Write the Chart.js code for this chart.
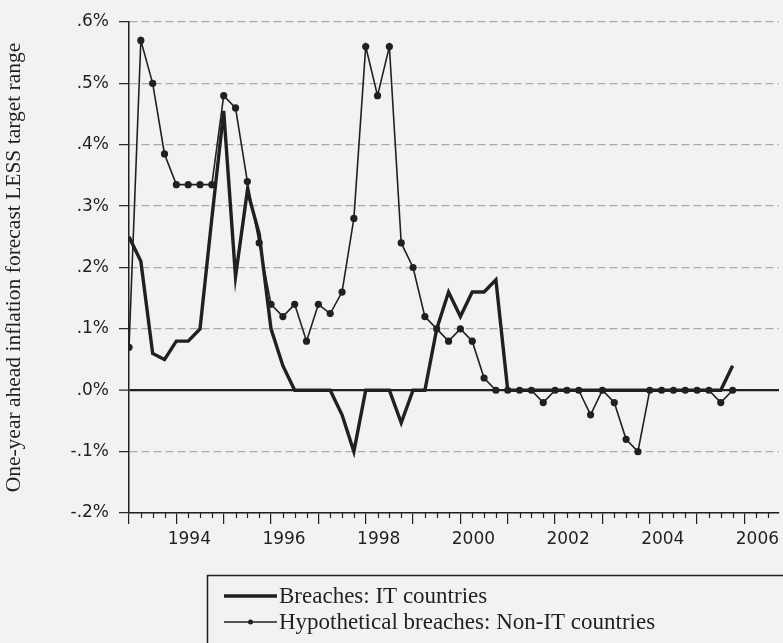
<!DOCTYPE html>
<html>
<head>
<meta charset="utf-8">
<script src="https://cdn.jsdelivr.net/npm/chart.js@4"></script>
<style>
  html, body { margin: 0; padding: 0; background: #f2f2f2; }
  canvas { display: block; }
</style>
</head>
<body>
<canvas id="myChart" width="783" height="643"></canvas>
<script>
// quarterly observations, 1993Q1 .. 2005Q4
var periods = [
    '1993Q1','1993Q2','1993Q3','1993Q4','1994Q1','1994Q2','1994Q3','1994Q4',
    '1995Q1','1995Q2','1995Q3','1995Q4','1996Q1','1996Q2','1996Q3','1996Q4',
    '1997Q1','1997Q2','1997Q3','1997Q4','1998Q1','1998Q2','1998Q3','1998Q4',
    '1999Q1','1999Q2','1999Q3','1999Q4','2000Q1','2000Q2','2000Q3','2000Q4',
    '2001Q1','2001Q2','2001Q3','2001Q4','2002Q1','2002Q2','2002Q3','2002Q4',
    '2003Q1','2003Q2','2003Q3','2003Q4','2004Q1','2004Q2','2004Q3','2004Q4',
    '2005Q1','2005Q2','2005Q3','2005Q4'
];

// Breaches: IT countries (%)
var itBreaches = [
    0.25, 0.21, 0.06, 0.05, 0.08, 0.08, 0.10, 0.28,
    0.455, 0.185, 0.325, 0.255, 0.10, 0.04, 0, 0,
    0, 0, -0.04, -0.10, 0, 0, 0, -0.053,
    0, 0, 0.10, 0.16, 0.12, 0.16, 0.16, 0.18,
    0, 0, 0, 0, 0, 0, 0, 0,
    0, 0, 0, 0, 0, 0, 0, 0,
    0, 0, 0, 0.04
];

// Hypothetical breaches: Non-IT countries (%)
var nonItBreaches = [
    0.07, 0.57, 0.50, 0.385, 0.335, 0.335, 0.335, 0.335,
    0.48, 0.46, 0.34, 0.24, 0.14, 0.12, 0.14, 0.08,
    0.14, 0.125, 0.16, 0.28, 0.56, 0.48, 0.56, 0.24,
    0.20, 0.12, 0.10, 0.08, 0.10, 0.08, 0.02, 0,
    0, 0, 0, -0.02, 0, 0, 0, -0.04,
    0, -0.02, -0.08, -0.10, 0, 0, 0, 0,
    0, 0, -0.02, 0
];

var seriesLabels = ['Breaches: IT countries', 'Hypothetical breaches: Non-IT countries'];
var yTickLabels = ['-.2%', '-.1%', '.0%', '.1%', '.2%', '.3%', '.4%', '.5%', '.6%'];
var xTickLabels = ['1994', '1996', '1998', '2000', '2002', '2004', '2006'];
var yTitle = 'One-year ahead inflation forecast LESS target range';

var ink = '#231f20';

function periodToX(p) {
    return parseInt(p.slice(0, 4), 10) + (parseInt(p.slice(5), 10) - 1) / 4;
}

function toPoints(values) {
    return values.map(function (v, i) { return { x: periodToX(periods[i]), y: v }; });
}

function isZero(c) {
    return c.tick && Math.abs(c.tick.value) < 1e-9;
}

// short quarterly tick marks on the time axis
var minorTicks = {
    id: 'minorTicks',
    afterDraw: function (chart) {
        var xs = chart.scales.x, ctx = chart.ctx;
        ctx.save();
        ctx.strokeStyle = ink;
        ctx.lineWidth = 1.2;
        for (var q = Math.ceil(xs.min * 4); q <= xs.max * 4; q++) {
            if (q % 4 === 0) continue;
            var px = Math.round(xs.getPixelForValue(q / 4)) + 0.5;
            ctx.beginPath();
            ctx.moveTo(px, xs.top);
            ctx.lineTo(px, xs.top + 5);
            ctx.stroke();
        }
        ctx.restore();
    }
};

// boxed legend under the axis
var boxLegend = {
    id: 'boxLegend',
    afterDraw: function (chart) {
        var ctx = chart.ctx;
        ctx.save();
        ctx.strokeStyle = ink;
        ctx.lineWidth = 1.5;
        ctx.strokeRect(207.5, 575.5, 700, 120);
        chart.data.datasets.forEach(function (ds, k) {
            var y = 596 + k * 26;
            ctx.strokeStyle = ds.borderColor;
            ctx.lineWidth = ds.borderWidth;
            ctx.beginPath();
            ctx.moveTo(224, y);
            ctx.lineTo(277, y);
            ctx.stroke();
            if (ds.pointRadius) {
                ctx.fillStyle = ds.pointBackgroundColor;
                ctx.beginPath();
                ctx.arc(250.5, y, 2.5, 0, Math.PI * 2);
                ctx.fill();
            }
            ctx.fillStyle = ink;
            ctx.font = '23px "Liberation Serif"';
            ctx.textBaseline = 'middle';
            ctx.fillText(ds.label, 279, y + 1);
        });
        ctx.restore();
    }
};

var ctx = document.getElementById('myChart').getContext('2d');

new Chart(ctx, {
    type: 'line',
    data: {
        datasets: [
            {
                label: seriesLabels[0],
                data: toPoints(itBreaches),
                borderColor: ink,
                borderWidth: 3.4,
                pointRadius: 0,
                tension: 0,
                fill: false
            },
            {
                label: seriesLabels[1],
                data: toPoints(nonItBreaches),
                borderColor: ink,
                borderWidth: 1.6,
                pointRadius: 3.6,
                pointBackgroundColor: ink,
                pointBorderWidth: 0,
                tension: 0,
                fill: false
            }
        ]
    },
    options: {
        responsive: false,
        animation: false,
        devicePixelRatio: 1,
        layout: { padding: { top: 22, left: 0, right: 0, bottom: 0 } },
        plugins: {
            legend: { display: false },
            tooltip: { enabled: false }
        },
        scales: {
            x: {
                type: 'linear',
                min: 1993,
                max: 2006.73,
                afterBuildTicks: function (scale) {
                    var t = [];
                    for (var yr = 1993; yr <= 2006; yr++) t.push({ value: yr });
                    scale.ticks = t;
                },
                afterFit: function (scale) {
                    scale.height = 130;
                    scale.paddingLeft = 0;
                    scale.paddingRight = 0;
                },
                grid: {
                    drawOnChartArea: false,
                    drawTicks: true,
                    tickLength: 11,
                    color: ink,
                    lineWidth: 1.2
                },
                border: { display: true, color: ink, width: 1.5 },
                ticks: {
                    autoSkip: false,
                    maxRotation: 0,
                    labelOffset: 13,
                    padding: 5,
                    color: ink,
                    font: { family: 'DejaVu Sans', size: 17 },
                    callback: function (value) {
                        var s = String(value);
                        return xTickLabels.indexOf(s) >= 0 ? s : '';
                    }
                }
            },
            y: {
                min: -0.2,
                max: 0.6,
                afterFit: function (scale) {
                    scale.width = 129;
                },
                grid: {
                    color: function (c) {
                        return isZero(c) ? ink : '#aaaaaa';
                    },
                    lineWidth: function (c) {
                        return isZero(c) ? 2.2 : 1.3;
                    },
                    tickLength: 10,
                    tickColor: ink,
                    tickWidth: 1.2,
                    tickBorderDash: []
                },
                border: {
                    display: true,
                    color: ink,
                    width: 1.5,
                    dash: function (c) {
                        return (c.tick && !isZero(c)) ? [8, 4] : [];
                    }
                },
                ticks: {
                    stepSize: 0.1,
                    padding: 10,
                    color: ink,
                    font: { family: 'DejaVu Sans', size: 17 },
                    callback: function (value, index) {
                        return yTickLabels[index];
                    }
                },
                title: {
                    display: true,
                    text: yTitle,
                    color: ink,
                    padding: { top: 1, bottom: 0 },
                    font: { family: 'Liberation Serif', size: 21.5 }
                }
            }
        }
    },
    plugins: [minorTicks, boxLegend]
});
</script>
</body>
</html>
